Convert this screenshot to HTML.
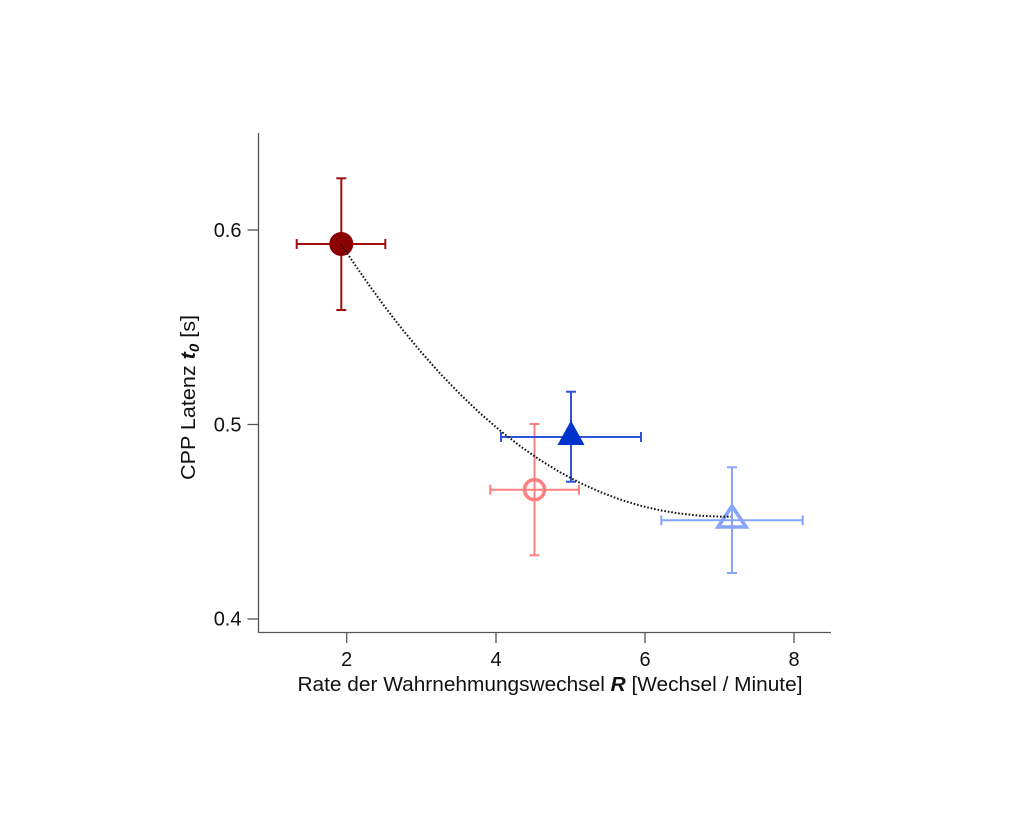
<!DOCTYPE html>
<html>
<head>
<meta charset="utf-8">
<style>
html,body{margin:0;padding:0;background:#fff;}
svg{display:block;}
text{font-family:"Liberation Sans",Arial,sans-serif;fill:#111;}
</style>
</head>
<body>
<svg width="1024" height="819" viewBox="0 0 1024 819" xmlns="http://www.w3.org/2000/svg">
<rect width="1024" height="819" fill="#fff"/>
<!-- axes -->
<g stroke="#555" stroke-width="1.3" fill="none">
  <line x1="258.5" y1="133" x2="258.5" y2="632.5"/>
  <line x1="258" y1="632.5" x2="831" y2="632.5"/>
  <!-- y ticks -->
  <line x1="247.5" y1="230" x2="258.5" y2="230"/>
  <line x1="247.5" y1="424.5" x2="258.5" y2="424.5"/>
  <line x1="247.5" y1="619" x2="258.5" y2="619"/>
  <!-- x ticks -->
  <line x1="346.7" y1="632.5" x2="346.7" y2="643"/>
  <line x1="496" y1="632.5" x2="496" y2="643"/>
  <line x1="645" y1="632.5" x2="645" y2="643"/>
  <line x1="794" y1="632.5" x2="794" y2="643"/>
</g>
<!-- tick labels -->
<g font-size="20">
  <text x="241.5" y="237" text-anchor="end">0.6</text>
  <text x="241.5" y="431.5" text-anchor="end">0.5</text>
  <text x="241.5" y="625.5" text-anchor="end">0.4</text>
  <text x="346.7" y="666" text-anchor="middle">2</text>
  <text x="496" y="666" text-anchor="middle">4</text>
  <text x="645" y="666" text-anchor="middle">6</text>
  <text x="794" y="666" text-anchor="middle">8</text>
</g>
<!-- axis labels -->
<text x="297.5" y="691" font-size="20" textLength="505" lengthAdjust="spacingAndGlyphs">Rate der Wahrnehmungswechsel <tspan font-weight="bold" font-style="italic">R</tspan>  [Wechsel / Minute]</text>
<text transform="translate(195,480) rotate(-90)" font-size="20" textLength="165" lengthAdjust="spacingAndGlyphs">CPP Latenz <tspan font-weight="bold" font-style="italic">t</tspan><tspan font-weight="bold" font-style="italic" font-size="14" dy="4">0</tspan><tspan dy="-4"> [s]</tspan></text>

<!-- pink open circle -->
<g stroke="#ff8080" stroke-width="2" fill="none">
  <line x1="534.5" y1="424" x2="534.5" y2="555.3"/>
  <line x1="490.3" y1="489.7" x2="579" y2="489.7"/>
  <line x1="529.5" y1="424" x2="539.5" y2="424"/>
  <line x1="529.5" y1="555.3" x2="539.5" y2="555.3"/>
  <line x1="490.3" y1="484.7" x2="490.3" y2="494.7"/>
  <line x1="579" y1="484.7" x2="579" y2="494.7"/>
  <circle cx="534.5" cy="489.7" r="10" stroke-width="3.6"/>
</g>

<!-- light blue open triangle -->
<g stroke="#85a3ff" stroke-width="2" fill="none">
  <line x1="732" y1="467.3" x2="732" y2="573"/>
  <line x1="661.3" y1="520.3" x2="802.7" y2="520.3"/>
  <line x1="727" y1="467.3" x2="737" y2="467.3"/>
  <line x1="727" y1="573" x2="737" y2="573"/>
  <line x1="661.3" y1="515.3" x2="661.3" y2="525.3"/>
  <line x1="802.7" y1="515.3" x2="802.7" y2="525.3"/>
  <polygon points="732,506 746,527 718,527" stroke-width="3.6" stroke-linejoin="miter"/>
</g>

<!-- blue filled triangle -->
<g stroke="#2f52d6" stroke-width="2" fill="none">
  <line x1="571" y1="391.7" x2="571" y2="481.7"/>
  <line x1="501" y1="437" x2="641" y2="437"/>
  <line x1="566" y1="391.7" x2="576" y2="391.7"/>
  <line x1="566" y1="481.7" x2="576" y2="481.7"/>
  <line x1="501" y1="432" x2="501" y2="442"/>
  <line x1="641" y1="432" x2="641" y2="442"/>
</g>
<polygon points="571,420.5 584.5,445 557.5,445" fill="#0033cc"/>

<!-- dark red filled circle -->
<g stroke="#a00e0e" stroke-width="2" fill="none">
  <line x1="341.3" y1="178.3" x2="341.3" y2="310"/>
  <line x1="296.7" y1="244" x2="385.3" y2="244"/>
  <line x1="336.3" y1="178.3" x2="346.3" y2="178.3"/>
  <line x1="336.3" y1="310" x2="346.3" y2="310"/>
  <line x1="296.7" y1="239" x2="296.7" y2="249"/>
  <line x1="385.3" y1="239" x2="385.3" y2="249"/>
</g>
<circle cx="341.3" cy="244" r="12" fill="#8b0000"/>

<!-- dotted fit curve -->
<polyline points="341.3,244.4 355,264.9 370,286.4 385,307 400,326.5 420,350.8 440,373.4 460,394.1 480,413.2 500,430.5 520,446 540,460 560,472.2 580,482.9 600,491.9 620,499.5 640,505.6 660,510.3 680,513.6 700,515.7 720,516.6 731,516.7"
      fill="none" stroke="#111" stroke-width="2" stroke-dasharray="1.6 1.9" stroke-linejoin="round"/>
</svg>
</body>
</html>
